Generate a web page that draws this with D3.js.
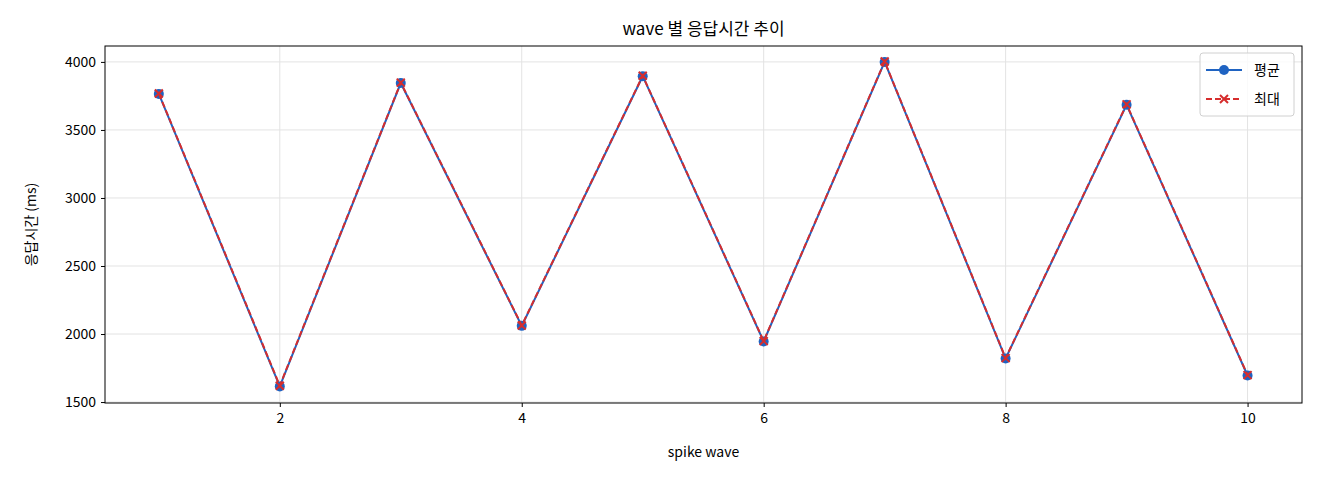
<!DOCTYPE html>
<html><head><meta charset="utf-8">
<script src="https://cdn.jsdelivr.net/npm/d3@7"></script>
<style>body{margin:0;background:#fff}text{font-family:"Noto Sans CJK KR","DejaVu Sans",sans-serif}</style>
</head><body><svg id="c" width="1320" height="480"></svg>
<script>
const waves = [1, 2, 3, 4, 5, 6, 7, 8, 9, 10];
const avgMs = [3765, 1615, 3845, 2060, 3895, 1945, 4000, 1820, 3685, 1695];
const maxMs = [3768, 1620, 3848, 2063, 3898, 1948, 4003, 1823, 3688, 1698];
const xTicks = [2, 4, 6, 8, 10];
const yTicks = [1500, 2000, 2500, 3000, 3500, 4000];

const m = {left: 105, right: 18, top: 46, bottom: 77};
const W = 1320, H = 480;
const svg = d3.select("#c");
const x = d3.scaleLinear().domain([0.555, 10.45]).range([m.left, W - m.right]);
const y = d3.scaleLinear().domain([1493, 4117]).range([H - m.bottom, m.top]);

// grid
svg.append("g").selectAll("line").data(xTicks).join("line")
  .attr("x1", d => x(d)).attr("x2", d => x(d)).attr("y1", m.top).attr("y2", H - m.bottom)
  .attr("stroke", "#e3e3e3");
svg.append("g").selectAll("line").data(yTicks).join("line")
  .attr("x1", m.left).attr("x2", W - m.right).attr("y1", d => y(d)).attr("y2", d => y(d))
  .attr("stroke", "#e3e3e3");

// axes
const ax = svg.append("g").attr("transform", `translate(0,${H - m.bottom})`)
  .call(d3.axisBottom(x).tickValues(xTicks).tickFormat(d3.format("d")).tickSizeOuter(0).tickSize(4).tickPadding(6));
const ay = svg.append("g").attr("transform", `translate(${m.left},0)`)
  .call(d3.axisLeft(y).tickValues(yTicks).tickFormat(d3.format("d")).tickSizeOuter(0).tickSize(4).tickPadding(5));
[ax, ay].forEach(a => { a.selectAll("text").attr("font-size", 14).attr("fill", "#000"); a.select(".domain").remove(); });

svg.append("rect").attr("x", m.left).attr("y", m.top)
  .attr("width", W - m.left - m.right).attr("height", H - m.top - m.bottom)
  .attr("fill", "none").attr("stroke", "#000");

// lines
const line = d3.line().x((d, i) => x(waves[i])).y(d => y(d));
svg.append("path").datum(avgMs).attr("d", line).attr("fill", "none").attr("stroke", "#1f63c2").attr("stroke-width", 2);
svg.append("g").selectAll("circle").data(avgMs).join("circle")
  .attr("cx", (d, i) => x(waves[i])).attr("cy", d => y(d)).attr("r", 5).attr("fill", "#1f63c2");
svg.append("path").datum(maxMs).attr("d", line).attr("fill", "none").attr("stroke", "#d62d2d")
  .attr("stroke-width", 2).attr("stroke-dasharray", "6,3");
const cross = (g, cx, cy, s) => g.append("path").attr("d", `M${cx-s},${cy-s}L${cx+s},${cy+s}M${cx-s},${cy+s}L${cx+s},${cy-s}`)
  .attr("stroke", "#d62d2d").attr("stroke-width", 2);
const cg = svg.append("g");
maxMs.forEach((d, i) => cross(cg, x(waves[i]), y(d), 4));

// labels
svg.append("text").attr("x", (m.left + W - m.right) / 2).attr("y", 35).attr("text-anchor", "middle")
  .attr("font-size", 17).text("wave 별 응답시간 추이");
svg.append("text").attr("x", (m.left + W - m.right) / 2).attr("y", 457).attr("text-anchor", "middle")
  .attr("font-size", 14).text("spike wave");
svg.append("text").attr("transform", `translate(36,${(m.top + H - m.bottom) / 2}) rotate(-90)`)
  .attr("text-anchor", "middle").attr("font-size", 14).text("응답시간 (ms)");

// legend
const lg = svg.append("g").attr("transform", "translate(1200,53)");
lg.append("rect").attr("width", 94).attr("height", 63).attr("rx", 3)
  .attr("fill", "#fff").attr("fill-opacity", 0.8).attr("stroke", "#d0d0d0");
lg.append("line").attr("x1", 6).attr("x2", 42).attr("y1", 17).attr("y2", 17).attr("stroke", "#1f63c2").attr("stroke-width", 2);
lg.append("circle").attr("cx", 24).attr("cy", 17).attr("r", 5).attr("fill", "#1f63c2");
lg.append("line").attr("x1", 6).attr("x2", 42).attr("y1", 46).attr("y2", 46).attr("stroke", "#d62d2d")
  .attr("stroke-width", 2).attr("stroke-dasharray", "6,3");
cross(lg, 24, 46, 4);
lg.append("text").attr("x", 54).attr("y", 22).attr("font-size", 14).text("평균");
lg.append("text").attr("x", 54).attr("y", 51).attr("font-size", 14).text("최대");
</script></body></html>
